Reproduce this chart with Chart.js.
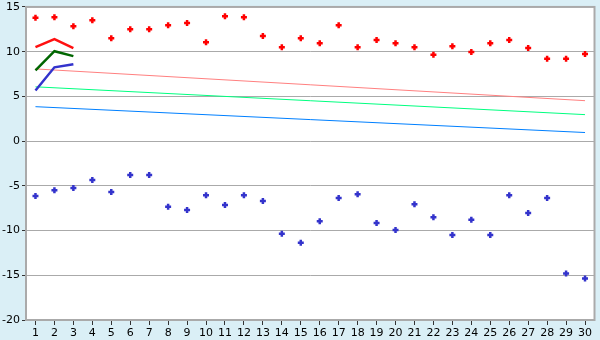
<!DOCTYPE html>
<html><head><meta charset="utf-8">
<script src="https://cdn.jsdelivr.net/npm/chart.js@4"></script>
<style>html,body{margin:0;padding:0;background:#daeff6;}#wrap{width:600px;height:340px;}</style>
</head><body><div id="wrap"><canvas id="c" width="600" height="340"></canvas></div>
<script>
const categories = ["1","2","3","4","5","6","7","8","9","10","11","12","13","14","15","16","17","18","19","20","21","22","23","24","25","26","27","28","29","30"];
const redPoints = [13.8,13.85,12.85,13.5,11.5,12.5,12.5,12.95,13.2,11.05,13.95,13.85,11.75,10.5,11.5,10.95,12.95,10.5,11.3,10.95,10.5,9.65,10.6,9.95,10.95,11.3,10.4,9.2,9.2,9.75];
const bluePoints = [-6.15,-5.5,-5.25,-4.35,-5.7,-3.8,-3.8,-7.35,-7.7,-6.05,-7.15,-6.05,-6.7,-10.35,-11.35,-8.95,-6.35,-5.95,-9.15,-9.95,-7.05,-8.5,-10.5,-8.8,-10.5,-6.05,-8.05,-6.35,-14.8,-15.35];
const redLine = [10.5,11.4,10.4];
const greenLine = [7.9,10.05,9.5];
const blueLine = [5.65,8.25,8.6];
const pinkTrendEnds = [8.07,4.52];
const greenTrendEnds = [6.07,2.96];
const blueTrendEnds = [3.85,0.96];
const yTicks = [-20,-15,-10,-5,0,5,10,15];

function endsToSeries(ends){
  const a = categories.map(()=>null);
  a[0]=ends[0]; a[a.length-1]=ends[1];
  return a;
}

const frame = {
  id:'frame',
  beforeDraw(chart){
    const {ctx, chartArea:a} = chart;
    ctx.save();
    ctx.fillStyle='#daeff6';
    ctx.fillRect(0,0,chart.width,chart.height);
    ctx.fillStyle='#ffffff';
    ctx.fillRect(a.left,a.top,a.right-a.left,a.bottom-a.top);
    ctx.restore();
  },
  afterDatasetsDraw(chart){
    const {ctx, chartArea:a} = chart;
    ctx.save();
    ctx.strokeStyle='#aaaaaa';
    ctx.lineWidth=2;
    ctx.strokeRect(a.left,a.top,a.right-a.left,a.bottom-a.top);
    ctx.restore();
  }
};

const trend = (data,color)=>({type:'line',data:endsToSeries(data),borderColor:color,borderWidth:1,pointRadius:0,spanGaps:true,fill:false,order:3});
const seg = (data,color)=>({type:'line',data:data,borderColor:color,borderWidth:2.5,pointRadius:0,fill:false,tension:0,order:2});
const pts = (data,color)=>({type:'line',data:data,showLine:false,borderColor:color,backgroundColor:color,pointStyle:'cross',pointRadius:3,pointBorderWidth:2.5,pointHoverRadius:3,order:1});

new Chart(document.getElementById('c'),{
  type:'line',
  data:{labels:categories,datasets:[
    trend(pinkTrendEnds,'#ff8080'),
    trend(greenTrendEnds,'#00ff80'),
    trend(blueTrendEnds,'#0080ff'),
    seg(redLine,'#ff1010'),
    seg(greenLine,'#006600'),
    seg(blueLine,'#3333cc'),
    pts(redPoints,'#ff0000'),
    pts(bluePoints,'#3333cc')
  ]},
  options:{
    responsive:false,animation:false,
    layout:{padding:{top:0,right:4,left:0,bottom:0}},
    plugins:{legend:{display:false},tooltip:{enabled:false}},
    scales:{
      x:{type:'category',offset:true,
        grid:{display:true,drawOnChartArea:false,drawTicks:true,tickLength:5,color:'#333333',offset:false},
        border:{display:true,color:'#aaaaaa',width:2},
        ticks:{color:'#000',font:{family:'DejaVu Sans',size:11},padding:2,maxRotation:0,autoSkip:false},
        afterFit(s){s.height=20;}
      },
      y:{min:-20,max:15,
        afterBuildTicks(s){s.ticks=yTicks.map(v=>({value:v}));},
        grid:{color:'#aaaaaa',lineWidth:1,tickLength:4,tickColor:'#333333'},
        border:{display:true,color:'#aaaaaa',width:2},
        ticks:{color:'#000',font:{family:'DejaVu Sans',size:11,lineHeight:0.9},padding:2},
        afterFit(s){s.width=26;}
      }
    }
  },
  plugins:[frame]
});
</script></body></html>
